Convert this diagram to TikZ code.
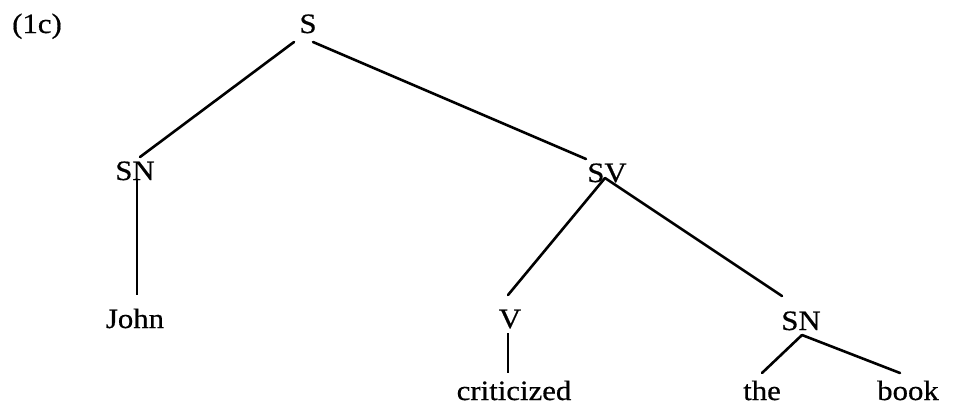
\documentclass[tikz,border=0pt]{standalone}
\usepackage{fontspec}
\setmainfont{Liberation Serif}[FakeStretch=1.1,FakeBold=0.6]
\usetikzlibrary{calc}
\begin{document}
\begin{tikzpicture}[x=1pt,y=-1pt,
  lbl/.style={inner sep=0pt,anchor=base,font=\fontsize{28}{30}\selectfont},
  edge/.style={line width=2.6pt,line cap=round},
  stem/.style={line width=1.8pt}]
\useasboundingbox (0,0) rectangle (953,413);
\node[lbl] (num) at (37,33) {(1c)};
\node[lbl] (S) at (308,33) {S};
\node[lbl] (SNa) at (135,180) {SN};
\node[lbl] (John) at (135,328) {John};
\node[lbl] (SV) at (607,182) {SV};
\node[lbl] (V) at (510,328) {V};
\node[lbl] (SNb) at (801,330) {SN};
\node[lbl] (crit) at (514,400) {criticized};
\node[lbl] (the) at (762,400) {the};
\node[lbl] (book) at (908,400) {book};
\draw[edge] ($(S.base)+(-14,9)$) -- ($(SNa.base)+(5,-23)$);
\draw[edge] ($(S.base)+(5,9)$) -- ($(SV.base)+(-21,-23)$);
\draw[stem] ($(SNa.base)+(2,0)$) -- ($(John.base)+(2,-33)$);
\draw[edge] ($(SV.base)+(-2,-4)$) -- ($(V.base)+(-2,-33)$);
\draw[edge] ($(SV.base)+(-2,-4)$) -- ($(SNb.base)+(-19,-34)$);
\draw[stem] ($(V.base)+(-2,5)$) -- ($(crit.base)+(-6,-27)$);
\draw[edge] ($(SNb.base)+(1,5)$) -- ($(the.base)+(0,-27)$);
\draw[edge] ($(SNb.base)+(1,5)$) -- ($(book.base)+(-8,-27)$);
\end{tikzpicture}
\end{document}
